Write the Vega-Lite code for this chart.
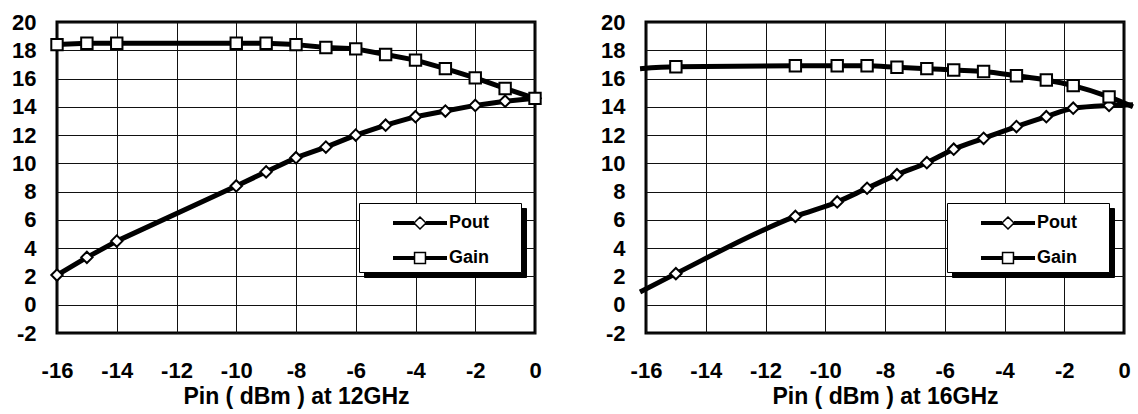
{
  "$schema": "https://vega.github.io/schema/vega-lite/v6.json",
  "description": "Pout and Gain versus Pin at 12GHz and 16GHz.",
  "background": "white",
  "padding": {"left": 10, "top": 9, "right": 0, "bottom": 0},
  "bounds": "flush",
  "spacing": 111,
  "data": {
    "values": [
      {"freq": "12GHz", "series": "Pout", "pin": -16, "value": 2.1},
      {"freq": "12GHz", "series": "Pout", "pin": -15, "value": 3.35},
      {"freq": "12GHz", "series": "Pout", "pin": -14, "value": 4.5},
      {"freq": "12GHz", "series": "Pout", "pin": -10, "value": 8.4},
      {"freq": "12GHz", "series": "Pout", "pin": -9, "value": 9.4},
      {"freq": "12GHz", "series": "Pout", "pin": -8, "value": 10.4},
      {"freq": "12GHz", "series": "Pout", "pin": -7, "value": 11.15},
      {"freq": "12GHz", "series": "Pout", "pin": -6, "value": 12.0},
      {"freq": "12GHz", "series": "Pout", "pin": -5, "value": 12.7},
      {"freq": "12GHz", "series": "Pout", "pin": -4, "value": 13.3},
      {"freq": "12GHz", "series": "Pout", "pin": -3, "value": 13.7},
      {"freq": "12GHz", "series": "Pout", "pin": -2, "value": 14.1},
      {"freq": "12GHz", "series": "Pout", "pin": -1, "value": 14.4},
      {"freq": "12GHz", "series": "Pout", "pin": 0, "value": 14.6},
      {"freq": "12GHz", "series": "Gain", "pin": -16, "value": 18.4},
      {"freq": "12GHz", "series": "Gain", "pin": -15, "value": 18.5},
      {"freq": "12GHz", "series": "Gain", "pin": -14, "value": 18.5},
      {"freq": "12GHz", "series": "Gain", "pin": -10, "value": 18.5},
      {"freq": "12GHz", "series": "Gain", "pin": -9, "value": 18.5},
      {"freq": "12GHz", "series": "Gain", "pin": -8, "value": 18.4},
      {"freq": "12GHz", "series": "Gain", "pin": -7, "value": 18.2},
      {"freq": "12GHz", "series": "Gain", "pin": -6, "value": 18.1},
      {"freq": "12GHz", "series": "Gain", "pin": -5, "value": 17.7},
      {"freq": "12GHz", "series": "Gain", "pin": -4, "value": 17.3},
      {"freq": "12GHz", "series": "Gain", "pin": -3, "value": 16.7},
      {"freq": "12GHz", "series": "Gain", "pin": -2, "value": 16.05},
      {"freq": "12GHz", "series": "Gain", "pin": -1, "value": 15.3},
      {"freq": "12GHz", "series": "Gain", "pin": 0, "value": 14.6},
      {"freq": "16GHz", "series": "Pout", "pin": -16.2, "value": 0.9},
      {"freq": "16GHz", "series": "Pout", "pin": -15, "value": 2.2},
      {"freq": "16GHz", "series": "Pout", "pin": -11, "value": 6.25},
      {"freq": "16GHz", "series": "Pout", "pin": -9.6, "value": 7.27},
      {"freq": "16GHz", "series": "Pout", "pin": -8.6, "value": 8.24},
      {"freq": "16GHz", "series": "Pout", "pin": -7.6, "value": 9.2},
      {"freq": "16GHz", "series": "Pout", "pin": -6.6, "value": 10.05},
      {"freq": "16GHz", "series": "Pout", "pin": -5.7, "value": 11.0},
      {"freq": "16GHz", "series": "Pout", "pin": -4.7, "value": 11.77},
      {"freq": "16GHz", "series": "Pout", "pin": -3.6, "value": 12.6},
      {"freq": "16GHz", "series": "Pout", "pin": -2.6, "value": 13.3},
      {"freq": "16GHz", "series": "Pout", "pin": -1.7, "value": 13.9},
      {"freq": "16GHz", "series": "Pout", "pin": -0.5, "value": 14.1},
      {"freq": "16GHz", "series": "Pout", "pin": 0.3, "value": 14.15},
      {"freq": "16GHz", "series": "Gain", "pin": -16.2, "value": 16.7},
      {"freq": "16GHz", "series": "Gain", "pin": -15, "value": 16.83},
      {"freq": "16GHz", "series": "Gain", "pin": -11, "value": 16.9},
      {"freq": "16GHz", "series": "Gain", "pin": -9.6, "value": 16.9},
      {"freq": "16GHz", "series": "Gain", "pin": -8.6, "value": 16.9},
      {"freq": "16GHz", "series": "Gain", "pin": -7.6, "value": 16.8},
      {"freq": "16GHz", "series": "Gain", "pin": -6.6, "value": 16.7},
      {"freq": "16GHz", "series": "Gain", "pin": -5.7, "value": 16.6},
      {"freq": "16GHz", "series": "Gain", "pin": -4.7, "value": 16.5},
      {"freq": "16GHz", "series": "Gain", "pin": -3.6, "value": 16.2},
      {"freq": "16GHz", "series": "Gain", "pin": -2.6, "value": 15.9},
      {"freq": "16GHz", "series": "Gain", "pin": -1.7, "value": 15.5},
      {"freq": "16GHz", "series": "Gain", "pin": -0.5, "value": 14.7},
      {"freq": "16GHz", "series": "Gain", "pin": 0.3, "value": 14.0}
    ]
  },
  "resolve": {"scale": {"shape": "independent"}, "legend": {"shape": "independent"}},
  "hconcat": [
    {
      "width": 478,
      "height": 311,
      "transform": [{"filter": "datum.freq == '12GHz'"}],
      "resolve": {"scale": {"shape": "independent"}, "legend": {"shape": "independent"}},
      "encoding": {
        "x": {"field": "pin", "type": "quantitative", "scale": {"domain": [-16, 0], "nice": false, "zero": false},
              "axis": {"values": [-16, -14, -12, -10, -8, -6, -4, -2, 0], "title": "Pin ( dBm ) at 12GHz"}},
        "y": {"field": "value", "type": "quantitative", "scale": {"domain": [-2, 20], "nice": false, "zero": false},
              "axis": {"values": [-2, 0, 2, 4, 6, 8, 10, 12, 14, 16, 18, 20], "title": null}}
      },
      "layer": [
        {
          "mark": {"type": "line", "color": "black", "strokeWidth": 5, "strokeJoin": "round"},
          "encoding": {"detail": {"field": "series"}}
        },
        {
          "transform": [{"filter": "datum.pin >= -16 && datum.pin <= 0"}],
          "mark": {"type": "point", "filled": true, "fill": "white", "stroke": "black", "strokeWidth": 2, "size": 130, "opacity": 1},
          "encoding": {
            "shape": {"field": "series", "scale": {"domain": ["Pout", "Gain"], "range": ["diamond", "square"]}, "legend": null}
          }
        },
        {
          "transform": [{"filter": "false"}],
          "mark": {"type": "point", "filled": true, "fill": "black", "stroke": "black", "opacity": 1},
          "encoding": {
            "shape": {
              "field": "series",
              "scale": {"domain": ["shadow-a", "shadow-b"], "range": [
                "M-1.93,-0.09H-0.43M-1.93,0H-0.43M-1.93,0.09H-0.43M0.43,-0.09H1.93M0.43,0H1.93M0.43,0.09H1.93M0,-0.43L0.43,0L0,0.43L-0.43,0ZM6.6,0",
                "M-1.93,-0.09H-0.39M-1.93,0H-0.39M-1.93,0.09H-0.39M0.39,-0.09H1.93M0.39,0H1.93M0.39,0.09H1.93M-0.39,-0.39H0.39V0.39H-0.39ZM6.6,0"
              ]},
              "legend": {
                "title": null, "orient": "none", "legendX": 307, "legendY": 186,
                "padding": 5, "strokeColor": "black", "fillColor": "black",
                "symbolSize": 784, "symbolOffset": 41, "labelOffset": 14, "rowPadding": 10,
                "labelExpr": "''", "labelFontSize": 18,
                "encode": {
                  "legend": {"update": {"strokeWidth": {"value": 2}}},
                  "symbols": {"update": {"fill": {"value": "black"}, "stroke": {"value": "black"}, "strokeWidth": {"value": 2}, "opacity": {"value": 1}}}
                }
              }
            }
          }
        },
        {
          "transform": [{"filter": "false"}],
          "mark": {"type": "point", "filled": true, "fill": "white", "stroke": "black", "strokeWidth": 2, "opacity": 1},
          "encoding": {
            "shape": {
              "field": "series",
              "scale": {"domain": ["Pout", "Gain"], "range": [
                "M-1.93,-0.09H-0.43M-1.93,0H-0.43M-1.93,0.09H-0.43M0.43,-0.09H1.93M0.43,0H1.93M0.43,0.09H1.93M0,-0.43L0.43,0L0,0.43L-0.43,0ZM6.6,0",
                "M-1.93,-0.09H-0.39M-1.93,0H-0.39M-1.93,0.09H-0.39M0.39,-0.09H1.93M0.39,0H1.93M0.39,0.09H1.93M-0.39,-0.39H0.39V0.39H-0.39ZM6.6,0"
              ]},
              "legend": {
                "title": null, "orient": "none", "legendX": 302, "legendY": 181,
                "padding": 5, "strokeColor": "black", "fillColor": "white",
                "symbolSize": 784, "symbolOffset": 41, "labelOffset": 14, "rowPadding": 10,
                "labelFontSize": 18, "labelFontWeight": "bold", "labelColor": "black",
                "encode": {
                  "legend": {"update": {"strokeWidth": {"value": 2}}},
                  "symbols": {"update": {"fill": {"value": "white"}, "stroke": {"value": "black"}, "strokeWidth": {"value": 2}, "opacity": {"value": 1}}}
                }
              }
            }
          }
        }
      ]
    },
    {
      "width": 478,
      "height": 311,
      "transform": [{"filter": "datum.freq == '16GHz'"}],
      "resolve": {"scale": {"shape": "independent"}, "legend": {"shape": "independent"}},
      "encoding": {
        "x": {"field": "pin", "type": "quantitative", "scale": {"domain": [-16, 0], "nice": false, "zero": false},
              "axis": {"values": [-16, -14, -12, -10, -8, -6, -4, -2, 0], "title": "Pin ( dBm ) at 16GHz"}},
        "y": {"field": "value", "type": "quantitative", "scale": {"domain": [-2, 20], "nice": false, "zero": false},
              "axis": {"values": [-2, 0, 2, 4, 6, 8, 10, 12, 14, 16, 18, 20], "title": null}}
      },
      "layer": [
        {
          "mark": {"type": "line", "color": "black", "strokeWidth": 5, "strokeJoin": "round", "interpolate": "monotone"},
          "encoding": {"detail": {"field": "series"}}
        },
        {
          "transform": [{"filter": "datum.pin >= -16 && datum.pin <= 0"}],
          "mark": {"type": "point", "filled": true, "fill": "white", "stroke": "black", "strokeWidth": 2, "size": 130, "opacity": 1},
          "encoding": {
            "shape": {"field": "series", "scale": {"domain": ["Pout", "Gain"], "range": ["diamond", "square"]}, "legend": null}
          }
        },
        {
          "transform": [{"filter": "false"}],
          "mark": {"type": "point", "filled": true, "fill": "black", "stroke": "black", "opacity": 1},
          "encoding": {
            "shape": {
              "field": "series",
              "scale": {"domain": ["shadow-a", "shadow-b"], "range": [
                "M-1.93,-0.09H-0.43M-1.93,0H-0.43M-1.93,0.09H-0.43M0.43,-0.09H1.93M0.43,0H1.93M0.43,0.09H1.93M0,-0.43L0.43,0L0,0.43L-0.43,0ZM6.6,0",
                "M-1.93,-0.09H-0.39M-1.93,0H-0.39M-1.93,0.09H-0.39M0.39,-0.09H1.93M0.39,0H1.93M0.39,0.09H1.93M-0.39,-0.39H0.39V0.39H-0.39ZM6.6,0"
              ]},
              "legend": {
                "title": null, "orient": "none", "legendX": 306, "legendY": 186,
                "padding": 5, "strokeColor": "black", "fillColor": "black",
                "symbolSize": 784, "symbolOffset": 41, "labelOffset": 14, "rowPadding": 10,
                "labelExpr": "''", "labelFontSize": 18,
                "encode": {
                  "legend": {"update": {"strokeWidth": {"value": 2}}},
                  "symbols": {"update": {"fill": {"value": "black"}, "stroke": {"value": "black"}, "strokeWidth": {"value": 2}, "opacity": {"value": 1}}}
                }
              }
            }
          }
        },
        {
          "transform": [{"filter": "false"}],
          "mark": {"type": "point", "filled": true, "fill": "white", "stroke": "black", "strokeWidth": 2, "opacity": 1},
          "encoding": {
            "shape": {
              "field": "series",
              "scale": {"domain": ["Pout", "Gain"], "range": [
                "M-1.93,-0.09H-0.43M-1.93,0H-0.43M-1.93,0.09H-0.43M0.43,-0.09H1.93M0.43,0H1.93M0.43,0.09H1.93M0,-0.43L0.43,0L0,0.43L-0.43,0ZM6.6,0",
                "M-1.93,-0.09H-0.39M-1.93,0H-0.39M-1.93,0.09H-0.39M0.39,-0.09H1.93M0.39,0H1.93M0.39,0.09H1.93M-0.39,-0.39H0.39V0.39H-0.39ZM6.6,0"
              ]},
              "legend": {
                "title": null, "orient": "none", "legendX": 301, "legendY": 181,
                "padding": 5, "strokeColor": "black", "fillColor": "white",
                "symbolSize": 784, "symbolOffset": 41, "labelOffset": 14, "rowPadding": 10,
                "labelFontSize": 18, "labelFontWeight": "bold", "labelColor": "black",
                "encode": {
                  "legend": {"update": {"strokeWidth": {"value": 2}}},
                  "symbols": {"update": {"fill": {"value": "white"}, "stroke": {"value": "black"}, "strokeWidth": {"value": 2}, "opacity": {"value": 1}}}
                }
              }
            }
          }
        }
      ]
    }
  ],
  "config": {
    "font": "Liberation Sans",
    "view": {"stroke": "black", "strokeWidth": 3},
    "axis": {
      "domain": false, "ticks": false, "grid": true,
      "gridColor": "#111", "gridWidth": 1, "gridOpacity": 1,
      "labelFont": "Liberation Sans", "labelColor": "black", "labelFontSize": 22, "labelFontWeight": 700,
      "labelExpr": "'' + datum.value", "labelOverlap": false, "labelFlush": false,
      "titleFont": "Liberation Sans", "titleColor": "black", "titleFontSize": 23, "titleFontWeight": 700
    },
    "axisX": {"labelPadding": 27, "titlePadding": 4},
    "axisY": {"labelPadding": 21},
    "axisQuantitative": {"labelOverlap": false},
    "legend": {"labelFont": "Liberation Sans"}
  }
}
